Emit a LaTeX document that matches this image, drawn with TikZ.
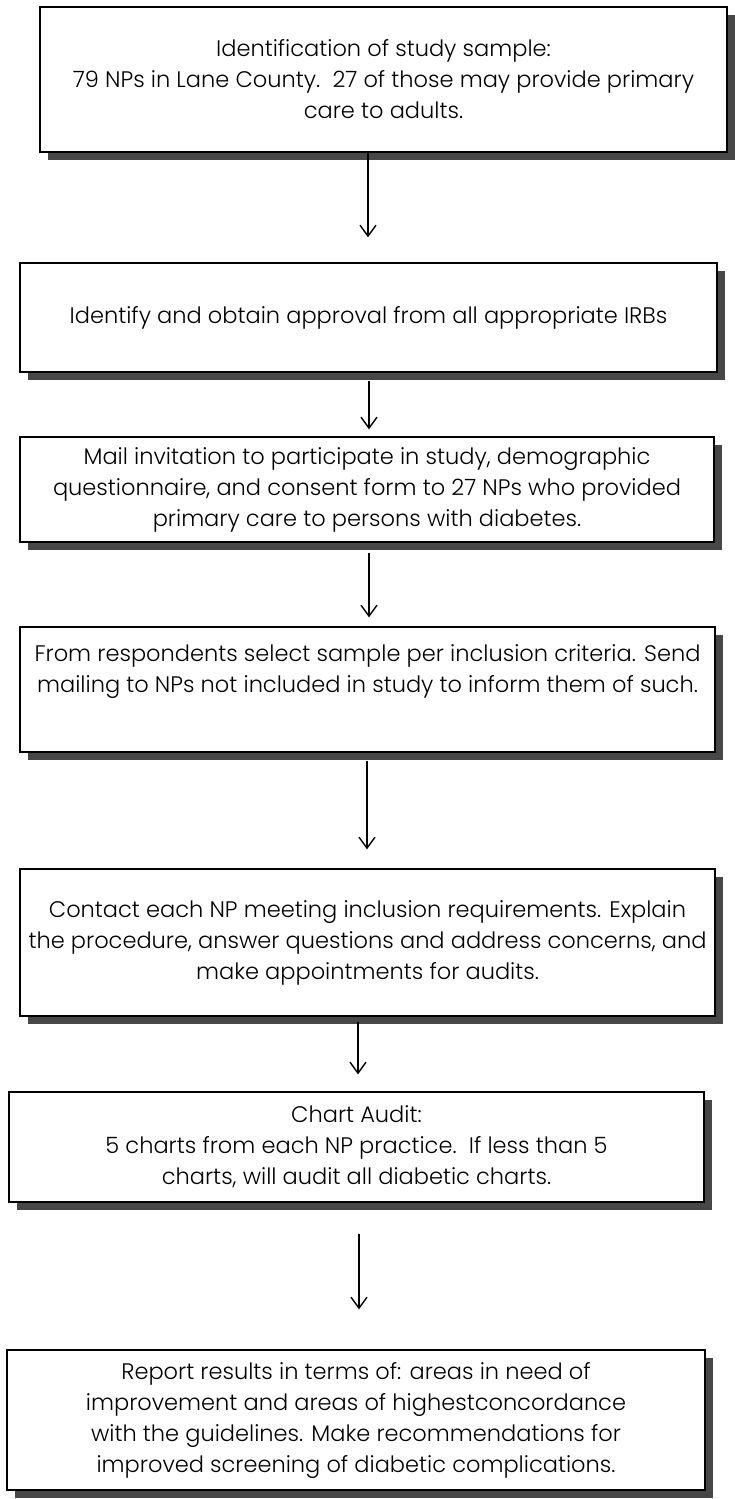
\documentclass[tikz,border=0pt]{standalone}
\usepackage{fontspec}
\setmainfont{Poppins}[UprightFont=* Light]
\usetikzlibrary{arrows.meta,shadows}
\tikzset{
  box/.style={draw, line width=1.3pt, fill=white, align=center, inner sep=0pt,
    font=\fontsize{22.5}{31}\selectfont,
    drop shadow={shadow xshift=8pt, shadow yshift=-8pt, fill=black!72, opacity=1}},
  arr/.style={line width=1.4pt, -{Straight Barb[length=11pt,width=16pt,line width=1.4pt]}}
}
\begin{document}
\begin{tikzpicture}[x=1pt,y=-1pt]
\useasboundingbox (0,0) rectangle (734,1499);
\node[box, minimum width=687pt, minimum height=145pt] (b1) at (383.5,79.5)
  {Identification of study sample:\\79 NPs in Lane County.\ \ 27 of those may provide primary\\care to adults.};
\node[box, minimum width=697pt, minimum height=109pt] (b2) at (368.5,317.5)
  {Identify and obtain approval from all appropriate IRBs};
\node[box, minimum width=694pt, minimum height=105pt] (b3) at (367,489.5)
  {Mail invitation to participate in study, demographic\\questionnaire, and consent form to 27 NPs who provided\\primary care to persons with diabetes.};
\node[box, minimum width=695pt, minimum height=125pt] (b4) at (367.5,689.5)
  {From respondents select sample per inclusion criteria. Send\\mailing to NPs not included in study to inform them of such.\\[10pt]~};
\node[box, minimum width=695pt, minimum height=147pt] (b5) at (367.5,942.5)
  {Contact each NP meeting inclusion requirements. Explain\\the procedure, answer questions and address concerns, and\\make appointments for audits.};
\node[box, minimum width=695pt, minimum height=110pt] (b6) at (356.5,1147)
  {Chart Audit:\\5 charts from each NP practice.\ \ If less than 5\\charts, will audit all diabetic charts.};
\node[box, minimum width=698pt, minimum height=140pt] (b7) at (356,1420)
  {Report results in terms of: areas in need of\\improvement and areas of highestconcordance\\with the guidelines. Make recommendations for\\improved screening of diabetic complications.};
\draw[arr] (368,0 |- b1.south) -- ([yshift=25pt]368,0 |- b2.north);
\draw[arr] ([yshift=-8pt]369,0 |- b2.south) -- ([yshift=7pt]369,0 |- b3.north);
\draw[arr] ([yshift=-10pt]369,0 |- b3.south) -- ([yshift=9pt]369,0 |- b4.north);
\draw[arr] ([yshift=-8pt]367,0 |- b4.south) -- ([yshift=19pt]367,0 |- b5.north);
\draw[arr] ([yshift=-5pt]358,0 |- b5.south) -- ([yshift=17pt]358,0 |- b6.north);
\draw[arr] ([yshift=-31pt]359,0 |- b6.south) -- ([yshift=40pt]359,0 |- b7.north);
\end{tikzpicture}
\end{document}
